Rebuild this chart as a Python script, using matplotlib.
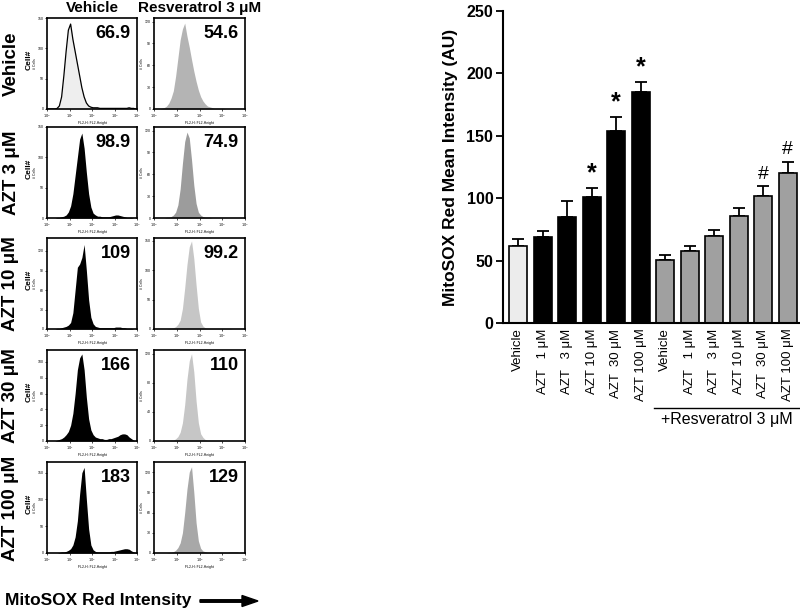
import numpy as np
import matplotlib
matplotlib.use('Agg')
from matplotlib import pyplot as plt
from matplotlib.transforms import blended_transform_factory

plt.rcParams['font.family'] = ['Liberation Sans', 'DejaVu Sans']

# ---- flow cytometry histograms (counts per 0.1-decade bin, log10 0..4) ----
row_labels = ['Vehicle', 'AZT 3 \u03bcM', 'AZT 10 \u03bcM', 'AZT 30 \u03bcM', 'AZT 100 \u03bcM']
col_labels = ['Vehicle', 'Resveratrol 3 \u03bcM']

hist_vehicle = [
    [0, 0, 0, 0, 1, 5, 20, 55, 95, 130, 140, 115, 95, 75, 55, 35, 20, 10, 5, 3,
     2, 2, 2, 1, 1, 1, 1, 1, 1, 1, 1, 1, 1, 1, 1, 1, 2, 1, 1, 0],
    [0, 0, 0, 0, 1, 1, 2, 3, 5, 10, 20, 40, 70, 100, 130, 140, 115, 75, 40, 18,
     8, 5, 3, 3, 2, 2, 2, 2, 3, 4, 5, 5, 4, 3, 2, 1, 1, 1, 0, 0],
    [0, 0, 0, 0, 1, 1, 2, 3, 4, 6, 10, 25, 60, 95, 100, 110, 130, 90, 45, 18,
     8, 4, 3, 2, 2, 2, 2, 2, 2, 2, 3, 3, 3, 2, 2, 1, 1, 1, 0, 0],
    [0, 0, 0, 0, 1, 2, 3, 5, 8, 12, 20, 35, 60, 90, 105, 110, 90, 55, 28, 14,
     8, 5, 4, 3, 3, 2, 2, 3, 3, 4, 5, 6, 8, 9, 9, 8, 5, 3, 1, 0],
    [0, 0, 0, 0, 0, 1, 2, 2, 3, 5, 8, 15, 30, 60, 110, 150, 160, 100, 45, 15,
     6, 3, 2, 2, 2, 2, 2, 2, 3, 3, 4, 5, 6, 7, 8, 8, 7, 4, 2, 1],
]
hist_resveratrol = [
    [0, 0, 0, 1, 2, 4, 8, 15, 25, 45, 70, 95, 110, 118, 100, 85, 68, 52, 38, 26,
     17, 11, 7, 4, 3, 2, 1, 1, 1, 1, 1, 0, 0, 0, 0, 0, 0, 0, 0, 0],
    [0, 0, 0, 0, 0, 1, 1, 2, 4, 8, 18, 40, 75, 105, 118, 110, 80, 45, 20, 8,
     4, 2, 1, 1, 1, 0, 0, 0, 0, 0, 0, 0, 0, 0, 0, 0, 0, 0, 0, 0],
    [0, 0, 0, 0, 0, 0, 1, 1, 2, 4, 8, 15, 35, 70, 110, 140, 150, 120, 75, 35,
     12, 5, 2, 1, 1, 1, 1, 1, 1, 1, 1, 1, 1, 1, 0, 0, 0, 0, 0, 0],
    [0, 0, 0, 0, 0, 0, 0, 1, 1, 3, 6, 12, 25, 50, 85, 110, 120, 95, 55, 25,
     10, 5, 2, 1, 1, 1, 1, 1, 1, 1, 0, 0, 0, 0, 0, 0, 0, 0, 0, 0],
    [0, 0, 0, 0, 0, 0, 1, 1, 2, 4, 8, 15, 30, 60, 95, 120, 128, 90, 45, 18,
     7, 3, 2, 1, 1, 1, 1, 1, 1, 1, 1, 1, 1, 2, 2, 2, 2, 1, 1, 0],
]
mean_vehicle = ['66.9', '98.9', '109', '166', '183']
mean_resveratrol = ['54.6', '74.9', '99.2', '110', '129']
ylim_vehicle = [150, 150, 140, 115, 170]
ylim_resveratrol = [125, 125, 155, 125, 135]
yticks_vehicle = [[0, 50, 100, 150], [0, 50, 100, 150], [0, 30, 60, 90, 120],
                  [0, 20, 40, 60, 80, 100], [0, 50, 100, 150]]
yticks_resveratrol = [[0, 30, 60, 90, 120], [0, 30, 60, 90, 120], [0, 50, 100, 150],
                      [0, 40, 80, 120], [0, 30, 60, 90, 120]]
fill_vehicle = ['#eeeeee', 'black', 'black', 'black', 'black']
fill_resveratrol = ['#b4b4b4', '#9c9c9c', '#c6c6c6', '#c6c6c6', '#a8a8a8']

# ---- bar chart ----
bar_labels = ['Vehicle', 'AZT   1 \u03bcM', 'AZT   3 \u03bcM', 'AZT 10 \u03bcM', 'AZT  30 \u03bcM', 'AZT 100 \u03bcM',
              'Vehicle', 'AZT   1 \u03bcM', 'AZT   3 \u03bcM', 'AZT 10 \u03bcM', 'AZT  30 \u03bcM', 'AZT 100 \u03bcM']
bar_means = [62, 69, 85, 101, 154, 185, 50.5, 57.5, 69.5, 85.5, 102, 120]
bar_errs = [5, 5, 13, 7, 11, 8, 4, 4, 5, 6.5, 7.5, 9]
bar_colors = ['#ececec'] + ['black'] * 5 + ['#a0a0a0'] * 6
bar_marks = ['', '', '', '*', '*', '*', '', '', '', '', '#', '#']

W, H = 800, 615
fig = plt.figure(figsize=(8, 6.15), dpi=100)


def px_axes(x0, y0, w, h):
    return fig.add_axes([x0 / W, 1 - (y0 + h) / H, w / W, h / H])


def draw_hist(ax, counts, ymax, yticks, color, label, outline=False):
    counts = np.array(counts, dtype=float)
    centers = np.arange(len(counts)) * 0.1 + 0.05
    xs = np.concatenate([[0], centers, [4]])
    ys = np.concatenate([[0], counts, [0]])
    ax.fill_between(xs, ys, color=color, linewidth=0)
    if outline:
        ax.plot(xs, ys, color='black', lw=0.9)
    ax.set_xlim(0, 4)
    ax.set_ylim(0, ymax)
    ax.set_xticks([0, 1, 2, 3, 4])
    ax.set_xticklabels(['$10^{%d}$' % i for i in range(5)], fontsize=2.5)
    ax.set_yticks(yticks)
    ax.set_yticklabels([str(t) for t in yticks], fontsize=2.5)
    ax.tick_params(length=1.5, width=0.5, pad=1)
    ax.set_xlabel('FL2-H: FL2-Height', fontsize=2.5, labelpad=0.5)
    ax.set_ylabel('# Cells', fontsize=2.5, labelpad=0.5)
    for s in ax.spines.values():
        s.set_linewidth(1.2)
    ax.text(0.93, 0.92, label, transform=ax.transAxes, ha='right', va='top',
            fontsize=13, fontweight='bold')


row_tops = [18, 127, 238, 350, 462]
for i in range(5):
    ax = px_axes(47, row_tops[i], 90, 91)
    draw_hist(ax, hist_vehicle[i], ylim_vehicle[i], yticks_vehicle[i],
              fill_vehicle[i], mean_vehicle[i], outline=(i == 0))
    fig.text(29 / W, 1 - (row_tops[i] + 42) / H, 'Cell#', rotation=90, fontsize=6,
             fontweight='bold', ha='center', va='center')
    ax = px_axes(154, row_tops[i], 91, 91)
    draw_hist(ax, hist_resveratrol[i], ylim_resveratrol[i], yticks_resveratrol[i],
              fill_resveratrol[i], mean_resveratrol[i])
    fig.text(11 / W, 1 - (row_tops[i] + 46) / H, row_labels[i], rotation=90,
             fontsize=13.5, fontweight='bold', ha='center', va='center')

fig.text(92 / W, 1 - 8 / H, col_labels[0], fontsize=11, fontweight='bold', ha='center', va='center')
fig.text(200 / W, 1 - 8 / H, col_labels[1], fontsize=11, fontweight='bold', ha='center', va='center')

fig.text(5 / W, 1 - 601 / H, 'MitoSOX Red Intensity', fontsize=12.5, fontweight='bold',
         ha='left', va='center')
fig.patches.append(matplotlib.patches.FancyArrow(
    200 / W, 1 - 601 / H, 58 / W, 0, width=2.5 / H, head_width=11 / H, head_length=16 / W,
    length_includes_head=True, color='black', transform=fig.transFigure, figure=fig))

# ---- bar chart ----
ax = px_axes(503, 11, 297, 312)
x = np.arange(len(bar_means))
ax.bar(x, bar_means, width=0.72, color=bar_colors, edgecolor='black', linewidth=1.2, zorder=2)
ax.errorbar(x, bar_means, yerr=[np.zeros(len(bar_errs)), bar_errs], fmt='none',
            ecolor='black', elinewidth=1.3, capsize=4, capthick=1.3, zorder=1)
for xi, m, e, mk in zip(x, bar_means, bar_errs, bar_marks):
    if mk == '*':
        ax.text(xi, m + e + 2, mk, ha='center', va='bottom', fontsize=18, fontweight='bold')
    elif mk == '#':
        ax.text(xi, m + e + 3, mk, ha='center', va='bottom', fontsize=14)
ax.set_xlim(-0.62, 11.5)
ax.set_ylim(0, 250)
ax.set_yticks([0, 50, 100, 150, 200, 250])
ax.set_yticklabels(['0', '50', '100', '150', '200', '250'], fontsize=11.5, fontweight='bold')
ax.set_xticks(x)
ax.set_xticklabels(bar_labels, rotation=90, fontsize=9.5, va='top', ha='center')
ax.tick_params(axis='x', length=0, pad=4)
ax.tick_params(axis='y', length=5, width=1.3, pad=2)
ax.spines['top'].set_visible(False)
ax.spines['right'].set_visible(False)
ax.spines['left'].set_linewidth(1.5)
ax.spines['bottom'].set_linewidth(1.5)
ax.set_ylabel('MitoSOX Red Mean Intensity (AU)', fontsize=12.5, fontweight='bold', labelpad=6)

tr = blended_transform_factory(ax.transData, ax.transAxes)
ax.plot([5.55, 11.45], [-0.272, -0.272], color='black', lw=1, transform=tr, clip_on=False)
ax.text(8.5, -0.31, '+Resveratrol 3 \u03bcM', transform=tr, ha='center', va='center', fontsize=11.5)

fig.savefig('out.png', dpi=100)
